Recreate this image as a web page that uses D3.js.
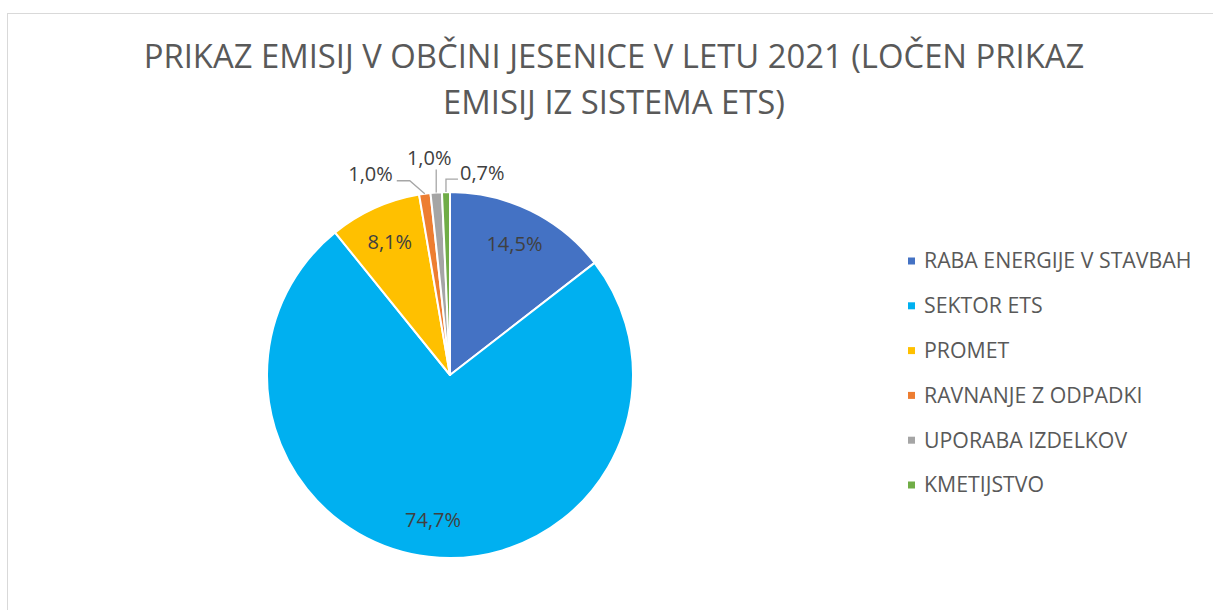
<!DOCTYPE html>
<html>
<head>
<meta charset="utf-8">
<script src="https://cdn.jsdelivr.net/npm/d3@7"></script>
<style>
  html, body { margin: 0; padding: 0; background: #fff; }
  svg { display: block; font-family: "Open Sans", sans-serif; }
</style>
</head>
<body>
<div id="chart"></div>
<script>
// data
var categories = ["RABA ENERGIJE V STAVBAH", "SEKTOR ETS", "PROMET", "RAVNANJE Z ODPADKI", "UPORABA IZDELKOV", "KMETIJSTVO"];
var shares = [14.5, 74.7, 8.1, 1.0, 1.0, 0.7];
var colors = ["#4472C4", "#00B0F0", "#FFC000", "#ED7D31", "#A5A5A5", "#70AD47"];
var titleLines = ["PRIKAZ EMISIJ V OBČINI JESENICE V LETU 2021 (LOČEN PRIKAZ", "EMISIJ IZ SISTEMA ETS)"];

var width = 1213, height = 610;
var cx = 450, cy = 375, radius = 183;

var svg = d3.select("#chart").append("svg")
  .attr("width", width)
  .attr("height", height);

// chart frame (runs off the right and bottom edge)
svg.append("rect")
  .attr("x", 7.5).attr("y", 13.5)
  .attr("width", 1212).attr("height", 620)
  .attr("fill", "#fff")
  .attr("stroke", "#d9d9d9")
  .attr("stroke-width", 1);

// title
svg.append("text")
  .attr("text-anchor", "middle")
  .attr("fill", "#595959")
  .style("font-size", "32.8px")
  .selectAll("tspan")
  .data(titleLines)
  .enter().append("tspan")
  .attr("x", 614)
  .attr("y", function (d, i) { return 68 + i * 46; })
  .text(function (d) { return d; });

var fmt = function (v) { return d3.format(".1f")(v).replace(".", ",") + "%"; };

var pie = d3.pie().sort(null).value(function (d) { return d; });
var arcs = pie(shares);

var arc = d3.arc().innerRadius(0).outerRadius(radius);
var labelArc = d3.arc().innerRadius(radius * 0.8).outerRadius(radius * 0.8);

var g = svg.append("g").attr("transform", "translate(" + cx + "," + cy + ")");

g.selectAll("path.slice")
  .data(arcs)
  .enter().append("path")
  .attr("class", "slice")
  .attr("d", arc)
  .attr("fill", function (d, i) { return colors[i]; })
  .attr("stroke", "#fff")
  .attr("stroke-width", 2)
  .attr("stroke-linejoin", "round");

// big slices: labels inside
var inside = arcs.filter(function (d) { return d.value >= 5; });
g.selectAll("text.inlabel")
  .data(inside)
  .enter().append("text")
  .attr("class", "inlabel")
  .attr("transform", function (d) { return "translate(" + labelArc.centroid(d) + ")"; })
  .attr("text-anchor", "middle")
  .attr("dy", "0.35em")
  .attr("fill", "#404040")
  .style("font-size", "20px")
  .text(function (d) { return fmt(d.value); });

// small slices: labels outside with leader lines
var outside = arcs.filter(function (d) { return d.value < 5; });
function edgePoint(d) {
  var a = (d.startAngle + d.endAngle) / 2;
  return [Math.sin(a) * radius, -Math.cos(a) * radius];
}
outside.forEach(function (d, k) {
  var p = edgePoint(d);
  var pts, tx, ty, anchor;
  if (k === 0) {
    pts = [p, [p[0] - 15, p[1] - 13], [p[0] - 28, p[1] - 13]];
    tx = p[0] - 32; ty = p[1] - 20; anchor = "end";
  } else if (k === 1) {
    pts = [p, [p[0], p[1] - 23]];
    tx = p[0] - 7; ty = p[1] - 35; anchor = "middle";
  } else {
    pts = [p, [p[0], p[1] - 13], [p[0] + 12, p[1] - 13]];
    tx = p[0] + 14; ty = p[1] - 19; anchor = "start";
  }
  g.append("polyline")
    .attr("points", pts.map(function (q) { return q.join(","); }).join(" "))
    .attr("fill", "none")
    .attr("stroke", "#a6a6a6")
    .attr("stroke-width", 1.3);
  g.append("text")
    .attr("x", tx).attr("y", ty)
    .attr("dy", "0.35em")
    .attr("text-anchor", anchor)
    .attr("fill", "#404040")
    .style("font-size", "20px")
    .text(fmt(d.value));
});

// legend
var legend = svg.append("g").attr("transform", "translate(908,261)");
var item = legend.selectAll("g")
  .data(categories)
  .enter().append("g")
  .attr("transform", function (d, i) { return "translate(0," + (i * 44.8) + ")"; });
item.append("rect")
  .attr("x", 0).attr("y", -3.5)
  .attr("width", 7).attr("height", 7)
  .attr("fill", function (d, i) { return colors[i]; });
item.append("text")
  .attr("x", 16).attr("dy", "0.35em")
  .attr("fill", "#595959")
  .style("font-size", "21.3px")
  .text(function (d) { return d; });
</script>
</body>
</html>
